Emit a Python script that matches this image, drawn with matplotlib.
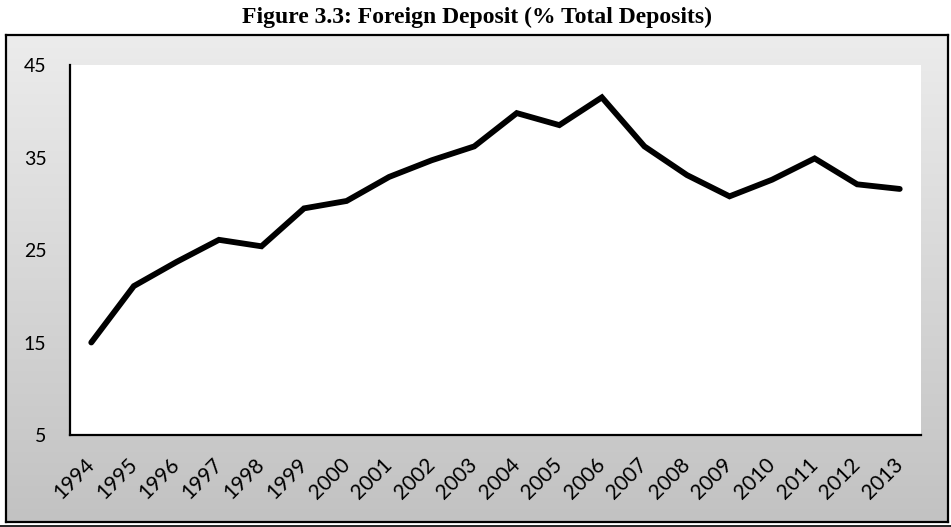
import numpy as np
import matplotlib.pyplot as plt
from matplotlib.lines import Line2D
from matplotlib.colors import LinearSegmentedColormap

# Foreign deposits as share of total deposits (%)
years = ['1994', '1995', '1996', '1997', '1998', '1999', '2000', '2001', '2002', '2003',
         '2004', '2005', '2006', '2007', '2008', '2009', '2010', '2011', '2012', '2013']
foreign_share = [15.0, 21.1, 23.7, 26.1, 25.4, 29.5, 30.3, 32.9, 34.7, 36.2,
                 39.8, 38.5, 41.5, 36.2, 33.1, 30.8, 32.6, 34.9, 32.1, 31.6]
y_ticks = [5, 15, 25, 35, 45]

W, H = 951, 527
fig = plt.figure(figsize=(W / 100, H / 100), dpi=100)
fig.patch.set_facecolor('white')

# chart area with a grey vertical gradient and a black frame
bg = fig.add_axes([6 / W, (H - 522) / H, 942 / W, 487 / H])
grey_fade = LinearSegmentedColormap.from_list('fade', ['#ececec', '#c2c2c2'])
grad = np.linspace(0, 1, 256).reshape(-1, 1)
bg.imshow(grad, cmap=grey_fade, aspect='auto', extent=[0, 1, 0, 1], origin='upper')
bg.set_xticks([])
bg.set_yticks([])
for s in bg.spines.values():
    s.set_linewidth(1.6)
    s.set_color('black')

# page rule under the chart
fig.add_artist(Line2D([0, 1], [(H - 525.5) / H] * 2, color='black', lw=1.2,
                      transform=fig.transFigure))

ax = fig.add_axes([70 / W, (H - 435) / H, 851 / W, 370 / H])
ax.set_facecolor('white')
x = np.arange(len(years))
ax.plot(x, foreign_share, color='black', lw=4.2, solid_capstyle='round',
        solid_joinstyle='miter')

ax.set_xlim(-0.5, len(years) - 0.5)
ax.set_ylim(5, 45)
ax.set_yticks(y_ticks)
ax.set_yticklabels([str(v) for v in y_ticks], fontsize=14, family='Lato')
ax.set_xticks(x)
ax.set_xticklabels(years, rotation=45, ha='right', va='center',
                   rotation_mode='anchor', fontsize=15, family='Lato')
ax.tick_params(axis='both', length=0)
ax.tick_params(axis='y', pad=17)
ax.tick_params(axis='x', pad=19)
for side in ['top', 'right']:
    ax.spines[side].set_visible(False)
for side in ['left', 'bottom']:
    ax.spines[side].set_linewidth(1.6)
    ax.spines[side].set_color('black')

fig.text(0.502, (H - 17) / H, 'Figure 3.3: Foreign Deposit (% Total Deposits)',
         ha='center', va='center', fontsize=17, fontweight='bold',
         family='Liberation Serif')

fig.savefig('out.png', dpi=100)
